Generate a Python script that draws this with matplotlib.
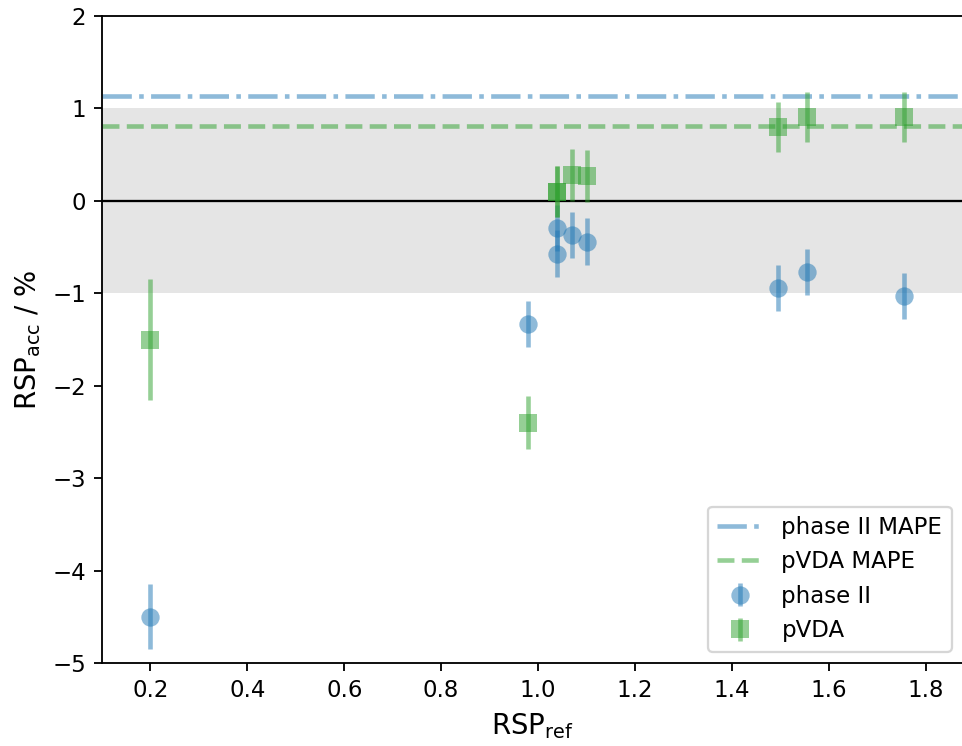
"""
RSP accuracy vs reference RSP - phase II and pVDA
"""
import numpy as np
import matplotlib
matplotlib.use('Agg')
import matplotlib.pyplot as plt

# data
rsp_ref = [0.2, 0.98, 1.04, 1.04, 1.07, 1.10, 1.495, 1.555, 1.755]

phase2_acc = [-4.50, -1.33, -0.29, -0.57, -0.37, -0.44, -0.94, -0.77, -1.03]
phase2_err = [0.35, 0.25, 0.25, 0.25, 0.25, 0.25, 0.25, 0.25, 0.25]

pvda_acc = [-1.50, -2.40, 0.10, 0.10, 0.28, 0.27, 0.80, 0.91, 0.91]
pvda_err = [0.65, 0.29, 0.28, 0.28, 0.28, 0.28, 0.27, 0.27, 0.27]

phase2_mape = np.mean(np.abs(phase2_acc))
pvda_mape = np.mean(np.abs(pvda_acc))

fig = plt.figure(figsize=(963 / 165., 746 / 165.), dpi=165)
ax = fig.add_axes([102 / 963., 83 / 746., 861 / 963., 647 / 746.])

ax.axhspan(-1, 1, color='k', alpha=0.1, lw=0)
ax.axhline(0, color='k', lw=1)

ax.axhline(phase2_mape, color='C0', ls='-.', lw=2, alpha=0.5, label='phase II MAPE')
ax.axhline(pvda_mape, color='C2', ls='--', lw=2, alpha=0.5, label='pVDA MAPE')

ax.errorbar(rsp_ref, phase2_acc, yerr=phase2_err, fmt='o', color='C0',
            ms=8, elinewidth=2, alpha=0.5, mew=0, label='phase II')
ax.errorbar(rsp_ref, pvda_acc, yerr=pvda_err, fmt='s', color='C2',
            ms=8, elinewidth=2, alpha=0.5, mew=0, label='pVDA')

ax.set_xlim(0.1, 1.877)
ax.set_ylim(-5, 2)
ax.spines['right'].set_visible(False)

ax.set_xlabel(r'RSP$_{\mathrm{ref}}$', fontsize=12)
ax.set_ylabel(r'RSP$_{\mathrm{acc}}$ / %', fontsize=12)
ax.legend(loc='lower right')

plt.savefig('out.png', dpi=165)
